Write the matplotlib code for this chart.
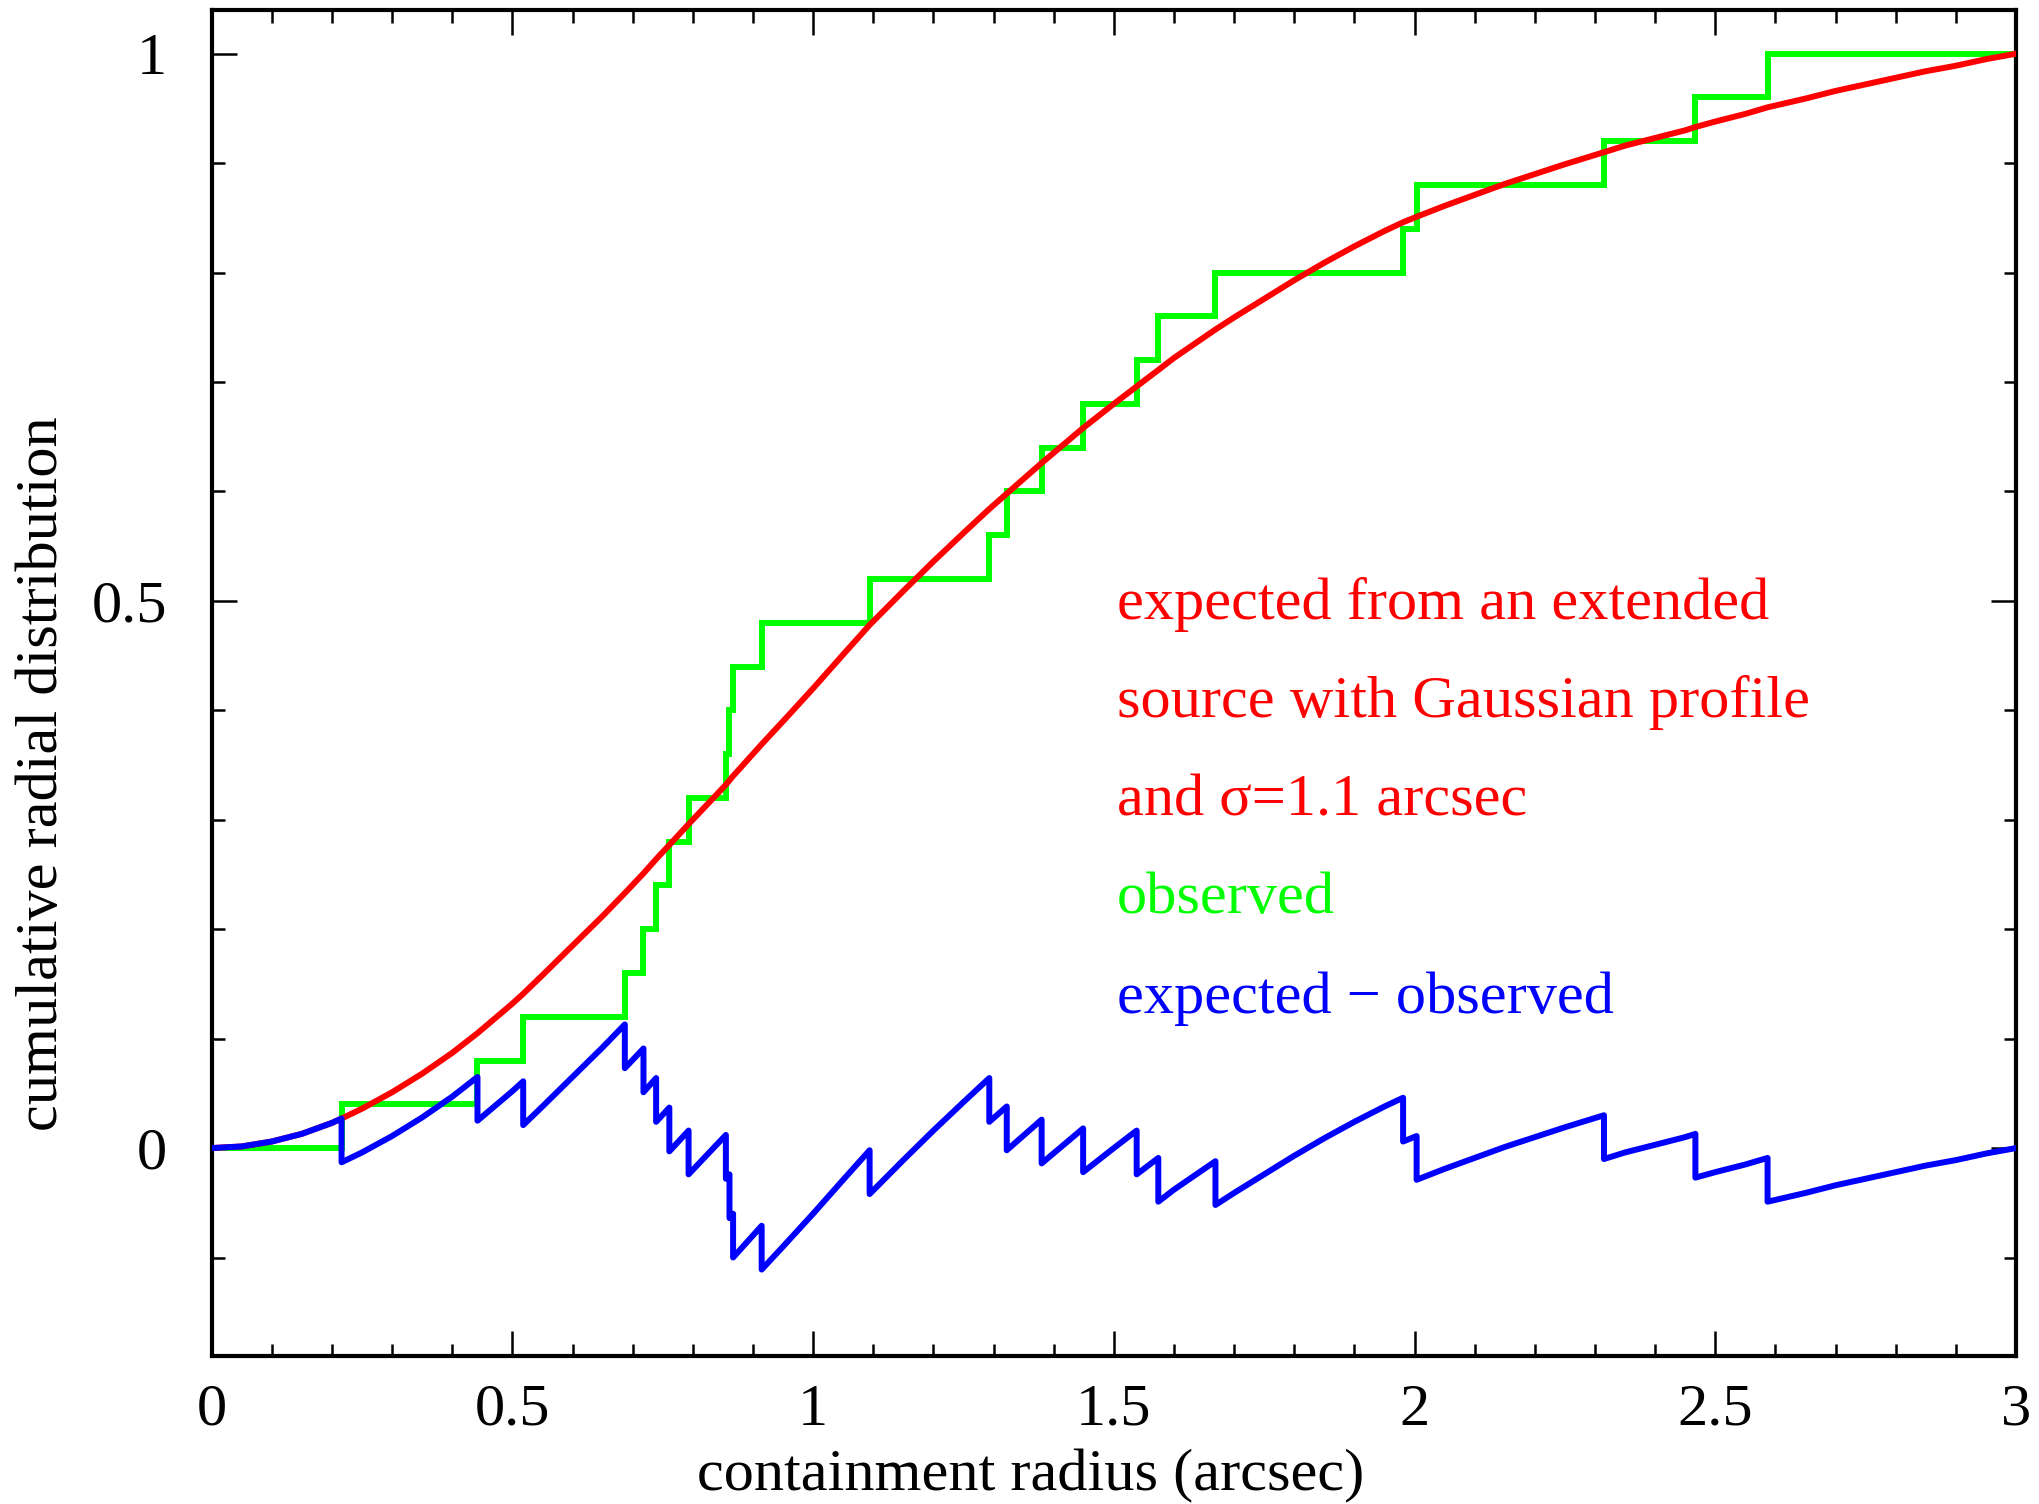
import numpy as np
import matplotlib
matplotlib.use("Agg")
import matplotlib.pyplot as plt
from matplotlib.ticker import FixedLocator, MultipleLocator, FixedFormatter

# expected cumulative radial distribution (red curve)
radius = [0.0, 0.05, 0.1, 0.15, 0.2, 0.216, 0.25, 0.3, 0.35, 0.4, 0.442, 0.5, 0.518,
          0.55, 0.6, 0.65, 0.687, 0.718, 0.739, 0.761, 0.793, 0.855, 0.861, 0.867,
          0.9145, 0.95, 1.0, 1.05, 1.094, 1.15, 1.2, 1.25, 1.293, 1.322, 1.38, 1.449,
          1.5, 1.538, 1.574, 1.6, 1.669, 1.7, 1.75, 1.8, 1.85, 1.9, 1.95, 1.981,
          2.0035, 2.05, 2.1, 2.15, 2.2, 2.25, 2.315, 2.35, 2.4, 2.45, 2.467, 2.5,
          2.55, 2.587, 2.65, 2.7, 2.75, 2.8, 2.85, 2.9, 2.95, 3.0]
expected = [0.000, 0.0015, 0.006, 0.013, 0.023, 0.027, 0.036, 0.051, 0.068, 0.087, 0.105,
            0.132, 0.141, 0.158, 0.185, 0.212, 0.233, 0.251, 0.264, 0.277, 0.296, 0.332,
            0.336, 0.340, 0.369, 0.390, 0.420, 0.451, 0.478, 0.509, 0.536, 0.562, 0.584,
            0.598, 0.626, 0.658, 0.680, 0.696, 0.711, 0.722, 0.748, 0.759, 0.776, 0.793,
            0.809, 0.824, 0.838, 0.846, 0.851, 0.861, 0.871, 0.881, 0.890, 0.899, 0.910,
            0.916, 0.923, 0.930, 0.933, 0.938, 0.945, 0.951, 0.959, 0.966, 0.972, 0.978,
            0.984, 0.989, 0.995, 1.000]

# observed cumulative distribution (green steps)
step_radius = [0.216, 0.442, 0.518, 0.687, 0.718, 0.739, 0.761, 0.793, 0.855, 0.861,
               0.867, 0.9145, 1.094, 1.293, 1.322, 1.38, 1.449, 1.538, 1.574, 1.669,
               1.981, 2.0035, 2.315, 2.467, 2.587]
observed_level = [0.04, 0.08, 0.12, 0.16, 0.20, 0.24, 0.28, 0.32, 0.36, 0.40,
                  0.44, 0.48, 0.52, 0.56, 0.60, 0.64, 0.68, 0.72, 0.76, 0.80,
                  0.84, 0.88, 0.92, 0.96, 1.00]

x_major = [0, 0.5, 1, 1.5, 2, 2.5, 3]
x_major_labels = ["0", "0.5", "1", "1.5", "2", "2.5", "3"]
y_major = [0, 0.5, 1]
y_major_labels = ["0", "0.5", "1"]

notes = ["expected from an extended", "source with Gaussian profile",
         "and \u03c3=1.1 arcsec", "observed", "expected \u2212 observed"]
note_colors = ["#ff0000", "#ff0000", "#ff0000", "#00ff00", "#0000ff"]
note_y = [0.4836, 0.394, 0.304, 0.2145, 0.1235]

plt.rcParams['font.family'] = ['Liberation Serif', 'DejaVu Serif']
FS = 43.5

fig = plt.figure(figsize=(20.39, 15.04), dpi=100)
ax = fig.add_axes([0.1038, 0.0984, 0.8849, 0.8947])

LW = 4.3
sx = np.concatenate([[0.0], step_radius, [3.0]])
sy = np.concatenate([[0.0], observed_level, [observed_level[-1]]])
ax.step(sx, sy, where='post', color='#00ff00', lw=LW, solid_joinstyle='miter', zorder=2)
ax.plot(radius, expected, color='#ff0000', lw=LW, zorder=3)

# expected - observed
step_arr = np.array(step_radius)
bx, by = [], []
for r, e in zip(radius, expected):
    nb = np.searchsorted(step_arr, r, side='left')
    na = np.searchsorted(step_arr, r, side='right')
    lb = 0.0 if nb == 0 else observed_level[nb - 1]
    la = 0.0 if na == 0 else observed_level[na - 1]
    bx.append(r)
    by.append(e - lb)
    if na != nb:
        bx.append(r)
        by.append(e - la)
ax.plot(bx, by, color='#0000ff', lw=LW, zorder=4)

for t, c, yy in zip(notes, note_colors, note_y):
    ax.text(1.505, yy, t, color=c, fontsize=FS, ha='left', va='baseline')

ax.set_xlim(0, 3)
ax.set_ylim(-0.19, 1.0396)

ax.xaxis.set_major_locator(FixedLocator(x_major))
ax.xaxis.set_major_formatter(FixedFormatter(x_major_labels))
ax.xaxis.set_minor_locator(MultipleLocator(0.1))
ax.yaxis.set_major_locator(FixedLocator(y_major))
ax.yaxis.set_major_formatter(FixedFormatter(y_major_labels))
ax.yaxis.set_minor_locator(MultipleLocator(0.1))

ax.tick_params(which='both', direction='in', top=True, right=True, width=1.8, colors='black')
ax.tick_params(which='major', length=18)
ax.tick_params(which='minor', length=9)
ax.tick_params(axis='x', which='major', labelsize=FS, pad=20)
ax.tick_params(axis='y', which='major', labelsize=FS, pad=32)
for sp in ax.spines.values():
    sp.set_linewidth(3.0)

ax.set_xlabel("containment radius (arcsec)", fontsize=FS, va='center')
ax.xaxis.set_label_coords(0.454, -0.0897)
ax.set_ylabel("cumulative radial distribution", fontsize=FS, va='center')
ax.yaxis.set_label_coords(-0.0932, 0.433)

fig.savefig("out.png", dpi=100)
